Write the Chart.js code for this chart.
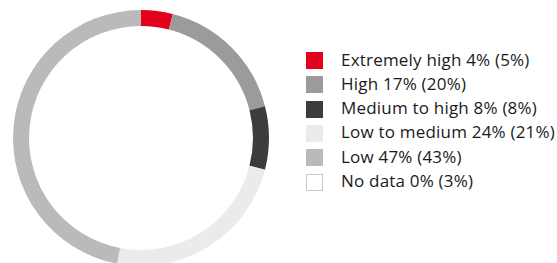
<!DOCTYPE html>
<html><head><meta charset="utf-8">
<script src="https://cdn.jsdelivr.net/npm/chart.js@4"></script>
<style>
html,body{margin:0;padding:0;width:557px;height:263px;overflow:hidden;background:#fff;}
#wrap{position:absolute;left:0;top:0;width:282px;height:276px;}
#legend{position:absolute;left:306px;top:0;margin:0;padding:0;list-style:none;font-family:"Open Sans",sans-serif;font-size:17px;color:#1a1a1a;}
#legend li{position:absolute;left:0;white-space:nowrap;height:24px;line-height:24px;}
#legend span.box{position:absolute;left:0;top:3.5px;width:17px;height:17px;box-sizing:border-box;}
#legend span.txt{position:absolute;left:35px;top:-1px;letter-spacing:0.2px;}
</style></head>
<body>
<div id="wrap"><canvas id="c" width="282" height="276"></canvas></div>
<ul id="legend"></ul>
<script>
const categories = ["Extremely high", "High", "Medium to high", "Low to medium", "Low", "No data"];
const values = [4, 17, 8, 24, 47, 0];
const compareValues = [5, 20, 8, 21, 43, 3];
const colors = ["#E3001B", "#9B9B9B", "#3C3C3B", "#EBEBEB", "#BABABA", "#FFFFFF"];

new Chart(document.getElementById('c'), {
  type: 'doughnut',
  data: {
    labels: categories,
    datasets: [{ data: values, backgroundColor: colors, borderWidth: 0 }]
  },
  options: {
    responsive: false,
    animation: false,
    cutout: '87.5%',
    layout: { padding: 10 },
    plugins: { legend: { display: false }, tooltip: { enabled: false } }
  }
});

const ul = document.getElementById('legend');
categories.forEach((c, i) => {
  const li = document.createElement('li');
  li.style.top = (48.5 + i * 24.3) + 'px';
  const b = document.createElement('span');
  b.className = 'box';
  b.style.background = colors[i];
  if (colors[i] === '#FFFFFF') b.style.border = '1px solid #c8c8c8';
  const t = document.createElement('span');
  t.className = 'txt';
  t.textContent = c + ' ' + values[i] + '% (' + compareValues[i] + '%)';
  li.appendChild(b); li.appendChild(t);
  ul.appendChild(li);
});
</script>
</body></html>
